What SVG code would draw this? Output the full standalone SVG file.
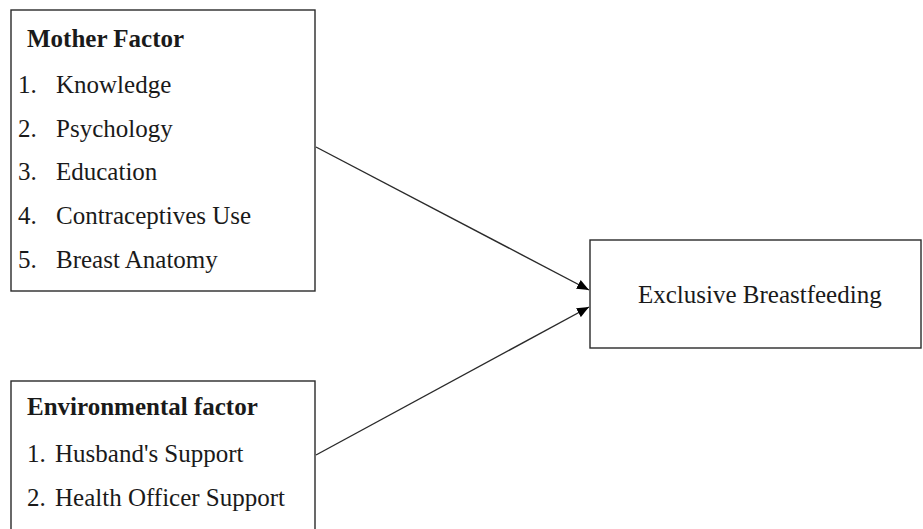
<svg xmlns="http://www.w3.org/2000/svg" width="923" height="529" viewBox="0 0 923 529">
<defs>
<style>
.box{fill:#fff;stroke:#2a2a2a;stroke-width:1.4}
.t{font-family:"Liberation Serif","Times New Roman",serif;font-size:25px;fill:#1a1a1a}
.b{font-weight:bold}
.c{stroke:#2a2a2a;stroke-width:1.4;fill:none}
</style>
<marker id="ah" markerWidth="12" markerHeight="10" refX="12" refY="5" orient="auto" markerUnits="userSpaceOnUse">
<path d="M0,0 L12,5 L0,10 Z" fill="#000"/>
</marker>
</defs>
<rect width="923" height="529" fill="#fff"/>
<g id="mother">
<rect class="box" x="11" y="10" width="304" height="281"/>
<text class="t b" x="27" y="47">Mother Factor</text>
<text class="t" x="18" y="93">1.</text><text class="t" x="56" y="93">Knowledge</text>
<text class="t" x="18" y="137">2.</text><text class="t" x="56" y="137">Psychology</text>
<text class="t" x="18" y="180">3.</text><text class="t" x="56" y="180">Education</text>
<text class="t" x="18" y="224">4.</text><text class="t" x="56" y="224">Contraceptives Use</text>
<text class="t" x="18" y="268">5.</text><text class="t" x="56" y="268">Breast Anatomy</text>
</g>
<g id="environment">
<rect class="box" x="11" y="381" width="304" height="160"/>
<text class="t b" x="27" y="415">Environmental factor</text>
<text class="t" x="27" y="462">1.</text><text class="t" x="55" y="462">Husband's Support</text>
<text class="t" x="27" y="506">2.</text><text class="t" x="55" y="506">Health Officer Support</text>
</g>
<g id="outcome">
<rect class="box" x="590" y="240" width="331" height="108"/>
<text class="t" x="638" y="303">Exclusive Breastfeeding</text>
</g>
<g id="connectors">
<line class="c" x1="316" y1="147" x2="589" y2="290" marker-end="url(#ah)"/>
<line class="c" x1="316" y1="455" x2="589" y2="307" marker-end="url(#ah)"/>
</g>
</svg>
